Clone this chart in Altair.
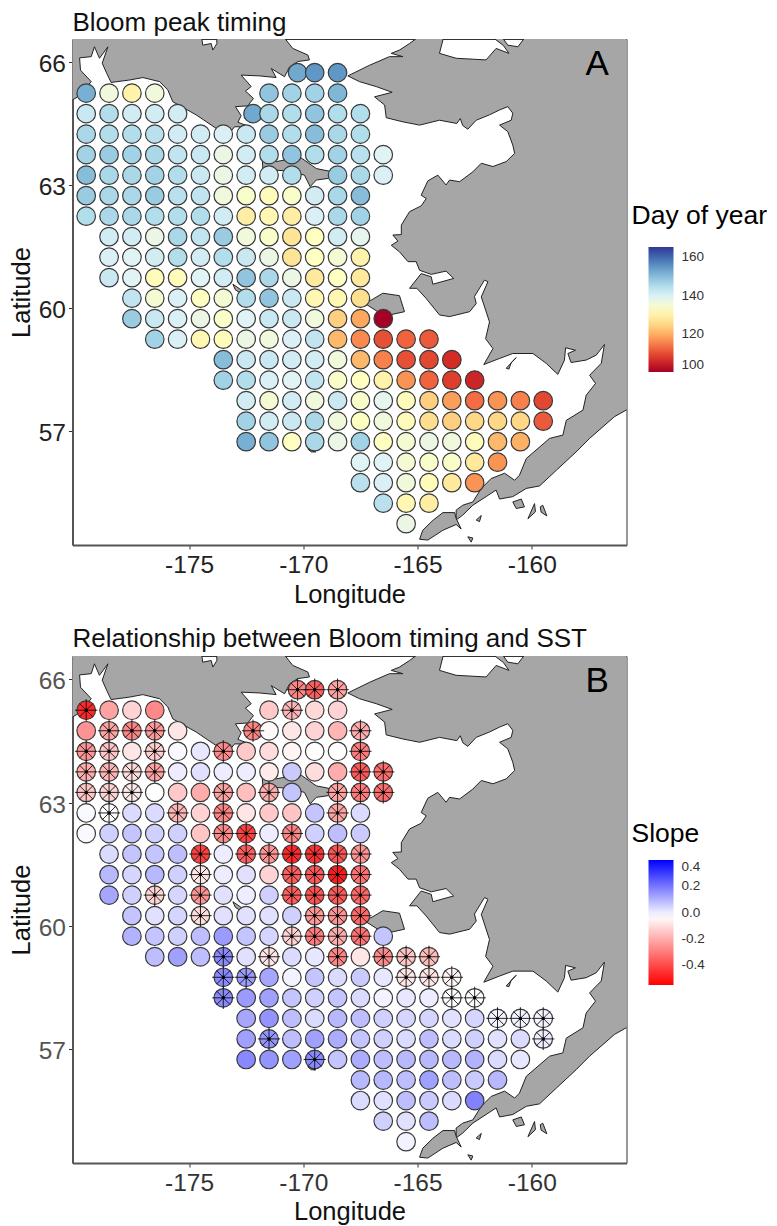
import altair as alt
import pandas as pd

FONT = "Liberation Sans"

def span(a, b):
    out = []
    v = a
    while v <= b:
        out.append(v)
        v += 1.0
    return out

lat_rows = [65.75, 65.25, 64.75, 64.25, 63.75, 63.25, 62.75, 62.25, 61.75, 61.25, 60.75,
            60.25, 59.75, 59.25, 58.75, 58.25, 57.75, 57.25, 56.75, 56.25, 55.75, 55.25, 54.75]

lon_rows = [
    [-170.25, -169.5, -168.5],
    span(-179.5, -176.5) + span(-171.5, -168.5),
    span(-179.5, -175.5) + [-172.2] + span(-171.5, -167.5),
    span(-179.5, -167.5),
    span(-179.5, -166.5),
    span(-179.5, -170.5) + span(-168.5, -166.5),
    span(-179.5, -167.5),
    span(-179.5, -167.5),
    span(-178.5, -167.5),
    span(-178.5, -167.5),
    span(-178.5, -167.5),
    span(-177.5, -167.5),
    span(-177.5, -166.5),
    span(-176.5, -164.5),
    span(-173.5, -163.5),
    span(-173.5, -162.5),
    span(-172.5, -159.5),
    span(-172.5, -159.5),
    span(-172.5, -160.5),
    span(-167.5, -161.5),
    span(-167.5, -162.5),
    span(-166.5, -164.5),
    [-165.5],
]

timing_rows = [
    [153, 155, 155],
    [152, 136, 130, 136, 149, 147, 147, 151],
    [142, 145, 141, 141, 141, 153, 146, 145, 149, 145, 145],
    [146, 145, 145, 144, 141, 141, 140, 142, 148, 145, 150, 146, 145],
    [147, 148, 147, 146, 143, 142, 137, 141, 145, 149, 145, 147, 144, 139],
    [150, 146, 146, 147, 145, 142, 137, 141, 141, 145, 148, 146, 140],
    [148, 146, 146, 148, 144, 143, 136, 134, 132, 134, 141, 146, 150],
    [145, 146, 146, 145, 145, 145, 141, 129, 131, 129, 140, 146, 147],
    [141, 141, 137, 146, 143, 148, 136, 134, 127, 133, 141, 138],
    [140, 139, 141, 145, 141, 145, 142, 137, 127, 133, 135, 130],
    [142, 139, 132, 132, 139, 141, 149, 146, 137, 128, 133, 128],
    [143, 135, 140, 133, 135, 145, 149, 142, 131, 131, 126],
    [148, 142, 140, 137, 134, 139, 142, 142, 136, 124, 119, 100],
    [147, 140, 131, 132, 137, 136, 140, 143, 121, 116, 110, 112, 111],
    [150, 142, 142, 141, 141, 136, 121, 115, 110, 109, 106],
    [147, 145, 140, 139, 143, 134, 133, 130, 117, 112, 108, 105],
    [141, 135, 141, 136, 142, 134, 138, 132, 124, 118, 113, 117, 115, 109],
    [147, 141, 142, 146, 136, 133, 136, 132, 126, 124, 125, 125, 125, 111],
    [152, 149, 133, 146, 137, 147, 133, 135, 137, 136, 132, 121, 120],
    [139, 139, 135, 134, 134, 128, 117],
    [144, 140, 136, 132, 128, 117],
    [144, 131, 129],
    [137],
]

slope_rows = [
    [-.28, -.36, -.22],
    [-.47, -.22, -.12, -.27, -.14, -.18, -.11, -.12],
    [-.25, -.22, -.28, -.24, -.08, -.28, -.04, -.08, -.12, -.18, -.2],
    [-.25, -.15, -.08, -.13, -.02, .01, -.27, -.14, -.1, -.05, -.03, -.03, -.3],
    [-.2, -.18, -.1, -.22, 0, .02, 0, 0, -.07, .06, -.1, -.2, -.37, -.33],
    [-.15, -.12, -.07, -.03, -.14, -.2, -.22, -.16, -.2, .07, -.22, -.3, -.33],
    [-.02, -.03, .03, .03, -.18, -.12, -.28, -.08, -.14, -.15, .07, -.22, .03],
    [-.02, .05, .07, .05, .05, -.15, -.27, -.42, 0, -.28, .05, .08, .06],
    [.03, .07, .07, .08, -.42, 0, -.36, -.25, -.47, -.45, -.38, -.25],
    [.09, .04, .09, .05, -.08, 0, .02, -.12, -.36, -.37, -.5, -.32],
    [.12, .05, -.12, .04, -.25, .02, 0, .05, -.36, -.38, -.37, -.34],
    [.07, .02, .04, -.1, .02, .02, .02, .05, -.24, -.25, -.34],
    [.1, .07, .05, .08, .14, .07, .04, -.12, -.3, -.2, -.32, .07],
    [.08, .13, .08, .17, .02, -.08, .03, .01, -.28, -.08, -.27, -.15, -.17],
    [.17, .14, .12, -.01, .07, .03, .06, .01, -.08, -.08, -.05],
    [.17, .14, .13, .07, .05, .07, .03, -.01, .01, 0, -.03, -.03],
    [.12, .15, .08, .03, .09, .08, .05, .04, .04, .02, .04, -.01, -.01, -.01],
    [.13, .15, .08, .13, .11, .07, .05, .03, .08, .03, .05, .02, .03, 0],
    [.17, .15, .13, .17, .07, .11, .08, .09, .09, .09, .1, .03, .01],
    [.09, .09, .08, .13, .08, .06, .09],
    [.03, .02, .08, .06, .03, .18],
    [.05, .02, .08],
    [-.01],
]

signif_rows = [
    [1, 1, 1],
    [1, 0, 0, 0, 0, 1, 0, 0],
    [0, 1, 1, 1, 0, 1, 0, 0, 0, 0, 1],
    [1, 1, 0, 1, 0, 0, 1, 0, 0, 0, 0, 0, 1],
    [1, 1, 1, 1, 0, 0, 0, 0, 0, 0, 0, 0, 1, 1],
    [1, 1, 1, 0, 0, 0, 1, 0, 1, 0, 1, 1, 1],
    [0, 1, 0, 0, 1, 0, 1, 0, 0, 0, 0, 1, 0],
    [0, 0, 0, 0, 0, 0, 1, 1, 0, 1, 0, 0, 0],
    [0, 0, 0, 0, 1, 0, 1, 1, 1, 1, 1, 1],
    [0, 0, 0, 0, 1, 0, 0, 0, 1, 1, 1, 1],
    [0, 0, 1, 0, 1, 0, 0, 0, 1, 1, 1, 1],
    [0, 0, 0, 1, 0, 0, 0, 0, 1, 1, 1],
    [0, 0, 0, 0, 0, 0, 0, 1, 1, 1, 1, 0],
    [0, 0, 0, 1, 0, 1, 0, 0, 1, 0, 1, 1, 1],
    [1, 1, 0, 0, 0, 0, 0, 0, 1, 1, 1],
    [1, 0, 0, 0, 0, 0, 0, 0, 0, 0, 1, 1],
    [0, 0, 0, 0, 0, 0, 0, 0, 0, 0, 0, 1, 1, 1],
    [0, 1, 0, 0, 0, 0, 0, 0, 0, 0, 0, 0, 0, 1],
    [0, 0, 0, 1, 0, 0, 0, 0, 0, 0, 0, 0, 0],
    [0, 0, 0, 0, 0, 0, 0],
    [0, 0, 0, 0, 0, 0],
    [0, 0, 0],
    [0],
]

# Land outlines, longitude / latitude pairs
chukotka = [(-170.97, 66.7), (-170.46, 66.34), (-169.8, 66.18), (-169.73, 66.06), (-170.24, 66.02),
            (-170.6, 65.89), (-170.82, 65.65), (-171.4, 65.85), (-171.19, 65.63), (-171.91, 65.67),
            (-172.72, 65.69), (-172.28, 65.41), (-172.53, 65.3), (-172.18, 65.12), (-172.43, 64.94),
            (-172.97, 64.92), (-172.72, 64.7), (-172.86, 64.54), (-172.35, 64.43), (-173.01, 64.43),
            (-173.23, 64.27), (-173.37, 64.35), (-173.81, 64.39), (-174.69, 64.72), (-175.71, 65.04),
            (-175.93, 65.33), (-176.29, 65.53), (-177.02, 65.63), (-177.6, 65.57), (-178.41, 65.51),
            (-178.6, 65.73), (-178.8, 65.98), (-178.55, 66.38), (-178.92, 66.1), (-179.14, 66.38),
            (-179.28, 66.14), (-179.79, 66.11), (-179.75, 65.81), (-179.28, 65.53), (-179.47, 65.41),
            (-179.87, 65.16), (-180.5, 64.95), (-180.5, 66.7), (-174.47, 66.7), (-174.4, 66.42),
            (-174.03, 66.46), (-173.96, 66.3), (-173.78, 66.46), (-173.8, 66.7), (-170.97, 66.7)]

alaska = [(-155.5, 66.7), (-160.17, 66.7), (-160.61, 66.38), (-161.05, 66.42), (-161.41, 66.7),
          (-161.92, 66.7), (-161.24, 66.41), (-161.0, 66.22), (-161.56, 66.34), (-162.0, 66.06),
          (-163.31, 66.1), (-164.04, 66.22), (-163.82, 66.7), (-164.77, 66.7), (-165.35, 66.46),
          (-165.79, 66.3), (-166.15, 66.22), (-165.64, 66.14), (-166.23, 66.14), (-167.1, 65.93),
          (-168.05, 65.67), (-167.54, 65.53), (-166.81, 65.41), (-166.11, 65.27), (-166.88, 65.16),
          (-166.44, 64.96), (-166.37, 64.65), (-165.64, 64.55), (-164.91, 64.47), (-164.04, 64.59),
          (-163.28, 64.51), (-163.13, 64.63), (-163.02, 64.46), (-162.8, 64.37), (-162.43, 64.59),
          (-161.85, 64.72), (-161.41, 64.84), (-161.05, 64.92), (-160.83, 64.76), (-160.9, 64.59),
          (-161.41, 64.47), (-161.05, 64.31), (-160.83, 63.98), (-160.75, 63.78), (-161.12, 63.58),
          (-161.7, 63.46), (-162.21, 63.54), (-162.58, 63.33), (-163.16, 63.09), (-163.6, 63.13),
          (-163.75, 63.01), (-164.11, 63.25), (-164.55, 63.11), (-164.84, 62.76), (-164.62, 62.68),
          (-164.84, 62.5), (-165.35, 62.36), (-165.71, 62.03), (-165.71, 61.8), (-166.08, 61.79),
          (-165.86, 61.64), (-166.15, 61.54), (-165.79, 61.38), (-165.42, 61.14), (-165.06, 61.14),
          (-164.91, 60.93), (-164.4, 60.83), (-163.75, 60.91), (-163.42, 60.73), (-164.33, 60.59),
          (-164.4, 60.77), (-164.84, 60.85), (-165.35, 60.49), (-165.03, 60.49), (-164.62, 60.24),
          (-164.04, 59.84), (-163.6, 59.8), (-162.72, 59.92), (-162.43, 60.12), (-162.51, 60.29),
          (-162.07, 60.69), (-161.92, 60.65), (-162.21, 60.28), (-161.85, 59.67), (-162.02, 59.26),
          (-161.7, 59.02), (-162.1, 58.63), (-161.41, 58.78), (-160.83, 58.9), (-159.95, 58.9),
          (-159.37, 58.66), (-158.86, 58.39), (-158.57, 58.74), (-158.52, 59.04), (-158.09, 58.98),
          (-158.42, 58.9), (-158.28, 58.68), (-157.62, 58.74), (-157.18, 58.86), (-156.82, 59.12),
          (-156.96, 58.66), (-157.47, 58.37), (-157.21, 58.17), (-157.62, 57.88), (-157.76, 57.52),
          (-158.49, 57.27), (-158.64, 56.91), (-159.22, 56.83), (-160.24, 56.34), (-160.54, 55.93),
          (-160.75, 55.81), (-161.19, 55.98), (-161.78, 55.85), (-162.21, 55.61), (-162.58, 55.28),
          (-163.02, 55.2), (-163.31, 55.08), (-163.31, 54.84), (-163.02, 54.96), (-162.58, 55.2),
          (-162.0, 55.41), (-161.56, 55.57), (-161.41, 55.35), (-160.83, 55.41), (-160.24, 55.61),
          (-159.66, 55.67), (-158.93, 56.05), (-158.06, 56.5), (-157.47, 56.83), (-156.38, 57.36),
          (-155.87, 57.52), (-155.5, 57.6), (-155.5, 66.7)]

unimak = [(-163.38, 55.02), (-163.89, 55.02), (-164.33, 54.83), (-164.77, 54.59), (-164.91, 54.37),
          (-164.55, 54.35), (-163.89, 54.59), (-163.31, 54.73), (-163.09, 54.62), (-163.31, 54.88),
          (-163.38, 55.02)]
nunivak = [(-167.42, 60.16), (-167.03, 60.2), (-166.52, 60.37), (-165.79, 60.31), (-165.57, 59.92),
           (-166.23, 59.84), (-166.74, 59.92), (-167.42, 60.16)]
st_lawrence = [(-171.8, 63.67), (-171.19, 63.58), (-170.6, 63.64), (-170.09, 63.67), (-169.43, 63.41),
               (-168.71, 63.33), (-168.92, 63.17), (-169.43, 63.13), (-169.7, 62.97), (-169.95, 63.25),
               (-170.6, 63.35), (-171.19, 63.37), (-171.77, 63.41), (-171.8, 63.67)]
st_matthew = [(-173.08, 60.59), (-172.64, 60.42), (-172.21, 60.34), (-172.64, 60.34), (-172.97, 60.45),
              (-173.08, 60.59)]
st_george = [(-170.45, 57.12), (-170.1, 57.22), (-170.3, 57.1), (-170.45, 57.12)]
st_paul = [(-169.8, 56.57), (-169.45, 56.5), (-169.65, 56.5), (-169.8, 56.57)]
hagemeister = [(-161.12, 58.54), (-160.68, 58.8), (-160.9, 58.68), (-161.0, 58.52), (-161.12, 58.54)]
shumagin_a = [(-160.83, 55.28), (-160.46, 55.35), (-160.32, 55.16), (-160.68, 55.12), (-160.83, 55.28)]
shumagin_b = [(-160.17, 54.87), (-159.88, 55.24), (-159.84, 55.04), (-160.17, 54.87)]
shumagin_c = [(-159.63, 55.16), (-159.52, 55.2), (-159.34, 54.94), (-159.59, 55.03), (-159.63, 55.16)]
sanak = [(-162.8, 54.43), (-162.58, 54.4), (-162.65, 54.3), (-162.8, 54.43)]
krenitzin = [(-162.43, 54.84), (-162.21, 54.95), (-162.29, 54.8), (-162.43, 54.84)]

land_polys = [chukotka, alaska, unimak, nunivak, st_lawrence, st_matthew, st_george, st_paul,
              hagemeister, shumagin_a, shumagin_b, shumagin_c, sanak, krenitzin]

timing_stops = [100, 106.5, 113.1, 119.6, 126.2, 132.75, 139.3, 145.9, 152.4, 159, 165.5]
timing_colors = ["#a50026", "#d73027", "#f46d43", "#fdae61", "#fee090", "#ffffbf",
                 "#e0f3f8", "#abd9e9", "#74add1", "#4575b4", "#313695"]
slope_stops = [-0.55, -0.03, 0.4]
slope_colors = ["#ff0000", "#ffffff", "#0000ff"]

timing_ticks = [100, 120, 140, 160]
slope_ticks = [-0.4, -0.2, 0.0, 0.2, 0.4]
timing_inner_ticks = [120, 140, 160]
slope_inner_ticks = [-0.4, -0.2, 0.0, 0.2]
lon_ticks = [-175, -170, -165, -160]
lat_ticks = [57, 60, 63, 66]
lon_domain = [-180.1, -155.855]
lat_domain = [54.23, 66.57]

points = pd.DataFrame([
    {"lon": lo, "lat": la, "timing": t, "slope": s, "signif": g}
    for la, los, ts, ss, gs in zip(lat_rows, lon_rows, timing_rows, slope_rows, signif_rows)
    for lo, t, s, g in zip(los, ts, ss, gs)
])
land = pd.DataFrame([
    {"poly": k, "i": i, "lon": p[0], "lat": p[1]}
    for k, poly in enumerate(land_polys) for i, p in enumerate(poly)
])
stars = points[points.signif == 1]

SPOKES = "M-1.2,0L1.2,0M0,-1.2L0,1.2M-.72,-.72L.72,.72M-.72,.72L.72,-.72"
BAR_LEFT, BAR_LEN, BAR_THICK = 576, 125, 25


def x_enc(label_color, title_pad):
    return alt.X("lon:Q", scale=alt.Scale(domain=lon_domain, nice=False, zero=False),
                 axis=alt.Axis(values=lon_ticks, title="Longitude", grid=False, labelExpr="'-' + abs(datum.value)",
                               labelFont=FONT, titleFont=FONT, labelFontSize=24.5, titleFontSize=25.5,
                               titleFontWeight="normal", labelColor=label_color, titleColor="#111111",
                               domainColor="#555555", domainWidth=2, tickColor="#333333", tickSize=4,
                               labelPadding=4, titlePadding=title_pad, labelFlush=False, labelOverlap=False))


def y_enc(label_color):
    return alt.Y("lat:Q", scale=alt.Scale(domain=lat_domain, nice=False, zero=False),
                 axis=alt.Axis(values=lat_ticks, title="Latitude", grid=False, format="d",
                               labelFont=FONT, titleFont=FONT, labelFontSize=24.5, titleFontSize=25.5,
                               titleFontWeight="normal", labelColor=label_color, titleColor="#111111",
                               domainColor="#555555", domainWidth=2, tickColor="#333333", tickSize=4,
                               labelOffset=2.5, labelPadding=3, titlePadding=4, labelFlush=False, labelOverlap=False))


def legend(values, legend_y, label_expr):
    return alt.Legend(orient="none", legendX=BAR_LEFT, legendY=legend_y, title=None, values=values,
                      gradientLength=BAR_LEN, gradientThickness=BAR_THICK, direction="vertical",
                      labelFont=FONT, labelFontSize=13.5, labelColor="#333333", labelOffset=8, zindex=0,
                      labelBaseline="middle", labelExpr=label_expr, labelOverlap=False, gradientStrokeWidth=0)


def bar_ticks(values, stops, legend_y):
    lo, hi = stops[0], stops[-1]
    df = pd.DataFrame({"v": values})
    expr = f"{legend_y} + ({hi} - datum.v) * {BAR_LEN} / ({hi} - {lo})"
    out = []
    for a, b in [(BAR_LEFT, BAR_LEFT + 5), (BAR_LEFT + BAR_THICK - 5, BAR_LEFT + BAR_THICK)]:
        out.append(alt.Chart(df).transform_calculate(py=expr).mark_rule(color="white", strokeWidth=1).encode(
            y=alt.Y("py:Q", scale=None, axis=None), x=alt.value(a), x2=alt.value(b)))
    return out


def panel(title, letter, field, stops, colors, lg, x_color, y_color, legend_title, title_y, height, title_pad,
          inner_ticks, legend_y, title_offset):
    xe, ye = x_enc(x_color, title_pad), y_enc(y_color)
    land_layer = alt.Chart(land).mark_line(fill="#a6a6a6", stroke="#222222", strokeWidth=1, clip=True).encode(
        x=xe, y=ye, detail="poly:N", order="i:Q")
    dots = alt.Chart(points).mark_point(filled=True, size=345, stroke="#3a3a3a", strokeWidth=1.2, opacity=1).encode(
        x=xe, y=ye,
        fill=alt.Fill(f"{field}:Q", scale=alt.Scale(domain=stops, range=colors, interpolate="rgb"), legend=lg))
    layers = [land_layer, dots]
    if field == "slope":
        layers.append(alt.Chart(stars).mark_point(shape=SPOKES, size=345, stroke="#111111", strokeWidth=0.9,
                                                  filled=False, opacity=1).encode(x=xe, y=ye))
        layers.append(alt.Chart(stars).mark_point(filled=True, size=12, color="#000000", opacity=1).encode(x=xe, y=ye))
    tag = alt.Chart(pd.DataFrame({"lon": [-157.14], "lat": [65.96], "t": [letter]})).mark_text(
        font=FONT, fontSize=35, color="#000000", align="center", baseline="middle").encode(x=xe, y=ye, text="t:N")
    lg_title = alt.Chart(pd.DataFrame({"t": [legend_title]})).mark_text(
        font=FONT, fontSize=26.5, color="#000000", align="left", baseline="alphabetic").encode(
        x=alt.value(559), y=alt.value(title_y), text="t:N")
    layers += [tag, lg_title] + bar_ticks(inner_ticks, stops, legend_y)
    return alt.layer(*layers).properties(
        width=554, height=height,
        title=alt.Title(title, anchor="start", frame="group", font=FONT, fontSize=26, fontWeight="normal",
                        color="#111111", offset=title_offset),
    )


neg_expr = "datum.value < 0 ? '-' + format(abs(datum.value), '.1f') : format(datum.value, '.1f')"
top = panel("Bloom peak timing", "A", "timing", timing_stops, timing_colors,
            legend(timing_ticks, 208, "format(datum.value, 'd')"), "#222222", "#222222", "Day of year", 185, 506, 6,
            timing_inner_ticks, 208, 3)
bottom = panel("Relationship between Bloom timing and SST", "B", "slope", slope_stops, slope_colors,
               legend(slope_ticks, 204, neg_expr), "#333333", "#555555", "Slope", 186, 507, 5,
               slope_inner_ticks, 204, 4)

chart = alt.vconcat(top, bottom, spacing=16).resolve_scale(fill="independent", x="independent", y="independent").properties(
    padding={"left": 0.5, "top": 1, "right": 0, "bottom": 0}, background="white"
).configure_view(stroke="#333333", strokeWidth=1, fill="white").configure_axis(grid=False)

chart.save("out.html", embed_options={"renderer": "svg", "actions": False})
